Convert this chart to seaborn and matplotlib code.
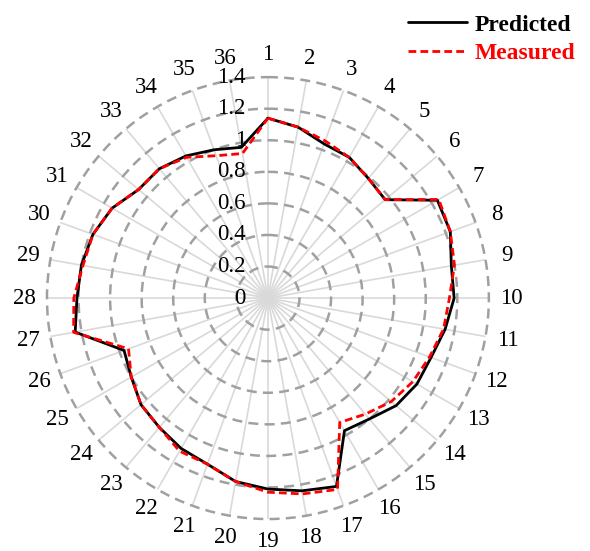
# imports
import numpy as np
import pandas as pd
import matplotlib
matplotlib.use('Agg')
import matplotlib.pyplot as plt
import seaborn as sns
from matplotlib.transforms import offset_copy

# ====================================================================================================
# data

categories = [str(i) for i in range(1, 37)]

predicted = [1.14, 1.10, 1.04, 1.03, 0.99, 0.97, 1.24, 1.23, 1.18, 1.18, 1.14, 1.10,
             1.09, 1.06, 1.00, 0.97, 1.27, 1.24, 1.21, 1.18, 1.12, 1.10, 1.07, 1.05,
             1.00, 0.97, 1.24, 1.21, 1.20, 1.18, 1.14, 1.07, 1.07, 1.04, 1.00, 0.97]

measured = [1.14, 1.10, 1.06, 1.03, 0.99, 0.97, 1.25, 1.23, 1.20, 1.15, 1.13, 1.09,
            1.06, 1.02, 0.96, 0.91, 1.29, 1.26, 1.23, 1.18, 1.12, 1.12, 1.07, 1.05,
            1.00, 0.94, 1.25, 1.23, 1.19, 1.18, 1.14, 1.07, 1.07, 1.03, 0.96, 0.93]

r_ticks = [0, 0.2, 0.4, 0.6, 0.8, 1.0, 1.2, 1.4]
r_tick_labels = ['0', '0.2', '0.4', '0.6', '0.8', '1', '1.2', '1.4']

series_names = ['Predicted', 'Measured']

# ====================================================================================================

def make_long_frame():
    theta = np.linspace(0, 2 * np.pi, len(categories), endpoint=False)
    frames = []
    for name, vals in zip(series_names, [predicted, measured]):
        # close the polygon by repeating the first point
        t = np.append(theta, 2 * np.pi)
        v = np.append(vals, vals[0])
        frames.append(pd.DataFrame({'theta': t, 'value': v, 'series': name}))
    return theta, pd.concat(frames, ignore_index=True)

# ====================================================================================================

def main():
    sns.set_theme(style='white')
    plt.rcParams['font.family'] = ['Liberation Serif', 'DejaVu Serif']
    plt.rcParams['text.color'] = 'black'
    plt.rcParams['xtick.color'] = 'black'
    plt.rcParams['ytick.color'] = 'black'

    theta, df = make_long_frame()

    fig = plt.figure(figsize=(5.9, 5.51), dpi=100)
    ax = fig.add_axes([0.0796, 0.058, 0.749, 0.802], projection='polar')
    ax.set_theta_zero_location('N')
    ax.set_theta_direction(-1)
    ax.set_axisbelow(True)

    sns.lineplot(data=df, x='theta', y='value', hue='series', style='series',
                 hue_order=series_names, style_order=series_names,
                 palette={'Predicted': 'black', 'Measured': '#ff0000'},
                 dashes={'Predicted': '', 'Measured': (2.8, 1.5)},
                 sort=False, estimator=None,
                 linewidth=2.0, legend=False, ax=ax)

    ax.set_ylim(0, 1.4)
    ax.set_yticks(r_ticks)
    ax.set_yticklabels([])
    ax.set_xticks(theta)
    ax.set_xticklabels(categories, fontsize=16.5, color='black')
    ax.tick_params(axis='x', pad=3)
    ax.set_xlabel('')
    ax.set_ylabel('')

    ax.yaxis.grid(True, color='#a0a0a0', linestyle=(0, (4, 2.5)), linewidth=1.8)
    ax.xaxis.grid(True, color='#d9d9d9', linestyle='-', linewidth=1.2)
    for gl in ax.yaxis.get_gridlines():
        gl.set_clip_on(False)
    ax.spines['polar'].set_visible(False)

    # radial labels sit just left of the vertical spoke
    trans = offset_copy(ax.transData, fig=fig, x=-22, y=0, units='dots')
    for r, lab in zip(r_ticks, r_tick_labels):
        ax.text(0, r, lab, transform=trans, ha='right', va='center', fontsize=16.5, color='black')

    handles = ax.get_lines()[:2]
    fig.legend(handles, series_names, loc='upper right', bbox_to_anchor=(1.0, 1.0),
               frameon=False, prop={'weight': 'bold', 'size': 17},
               handlelength=2.5, handletextpad=0.35, labelspacing=0.3,
               borderaxespad=0.2, labelcolor='linecolor')

    plt.savefig('out.png', dpi=100)

# ====================================================================================================

if __name__ == '__main__':
    main()
